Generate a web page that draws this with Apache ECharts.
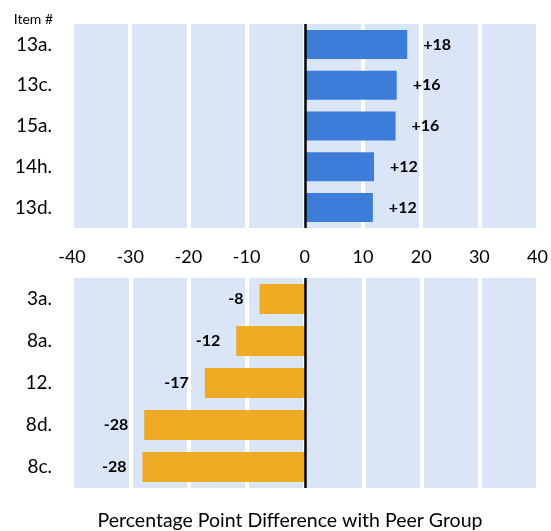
<!DOCTYPE html>
<html>
<head>
<meta charset="utf-8">
<script src="https://cdn.jsdelivr.net/npm/echarts@6/dist/echarts.min.js"></script>
<style>
html,body{margin:0;padding:0;background:#fff;}
#chart{width:551px;height:531px;}
</style>
</head>
<body>
<div id="chart"></div>
<script>
var categoriesTop = ['13a.', '13c.', '15a.', '14h.', '13d.'];
var valuesTop = [17.6, 15.8, 15.6, 11.9, 11.7];
var labelsTop = ['+18', '+16', '+16', '+12', '+12'];

var categoriesBottom = ['3a.', '8a.', '12.', '8d.', '8c.'];
var valuesBottom = [-7.8, -11.8, -17.2, -27.6, -27.9];
var labelsBottom = ['-8', '-12', '-17', '-28', '-28'];

var xTicks = [-40, -30, -20, -10, 0, 10, 20, 30, 40];
var axisTitle = 'Percentage Point Difference with Peer Group';
var cornerLabel = 'Item #';

var FONT = 'Lato, "Noto Sans", sans-serif';
var chart = echarts.init(document.getElementById('chart'), null, {renderer: 'canvas'});

function xAxisDef(gridIndex, showLabels) {
  return {
    type: 'value', gridIndex: gridIndex,
    min: xTicks[0], max: xTicks[xTicks.length - 1], interval: 10,
    axisLine: {show: false}, axisTick: {show: false},
    axisLabel: {show: showLabels, color: '#000', fontSize: 18, fontFamily: FONT, margin: 20},
    splitLine: {show: true, lineStyle: {color: '#ffffff', width: 4}}
  };
}
function yAxisDef(gridIndex, cats) {
  return {
    type: 'category', gridIndex: gridIndex, data: cats, inverse: true,
    axisLine: {show: false}, axisTick: {show: false},
    axisLabel: {color: '#000', fontSize: 19, fontFamily: FONT, margin: 20},
    splitLine: {show: false}
  };
}
var zeroLine = {
  silent: true, symbol: ['none', 'none'], label: {show: false},
  lineStyle: {color: '#000', width: 2.5, type: 'solid'},
  data: [{xAxis: 0}]
};

chart.setOption({
  animation: false,
  grid: [
    {left: 72, right: 13, top: 24, height: 204, show: true, backgroundColor: '#dae5f7', borderWidth: 0},
    {left: 72, right: 13, top: 278, height: 210, show: true, backgroundColor: '#dae5f7', borderWidth: 0}
  ],
  xAxis: [xAxisDef(0, true), xAxisDef(1, false)],
  yAxis: [yAxisDef(0, categoriesTop), yAxisDef(1, categoriesBottom)],
  graphic: [
    {type: 'text', x: 53, y: 19, style: {text: cornerLabel, font: '14px ' + FONT, fill: '#000', textAlign: 'right', textVerticalAlign: 'middle'}},
    {type: 'text', x: 290, y: 521, style: {text: axisTitle, font: '19.5px ' + FONT, fill: '#000', textAlign: 'center', textVerticalAlign: 'middle'}}
  ],
  series: [
    {
      type: 'bar', xAxisIndex: 0, yAxisIndex: 0, data: valuesTop,
      barCategoryGap: '29%',
      itemStyle: {color: '#3c7dd9'},
      label: {show: true, position: 'right', distance: 16, color: '#000', fontWeight: 'bold', fontSize: 16, fontFamily: FONT,
        formatter: function (p) { return labelsTop[p.dataIndex]; }},
      markLine: zeroLine
    },
    {
      type: 'bar', xAxisIndex: 1, yAxisIndex: 1, data: valuesBottom,
      barCategoryGap: '28%',
      itemStyle: {color: '#efa923'},
      label: {show: true, position: 'left', distance: 16, color: '#000', fontWeight: 'bold', fontSize: 16, fontFamily: FONT,
        formatter: function (p) { return labelsBottom[p.dataIndex]; }},
      markLine: zeroLine
    }
  ]
});
</script>
</body>
</html>
